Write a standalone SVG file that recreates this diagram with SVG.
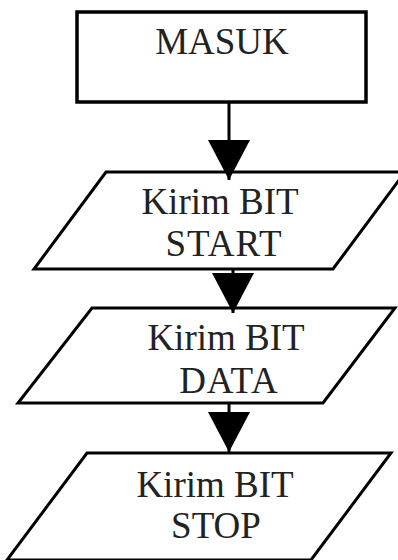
<svg xmlns="http://www.w3.org/2000/svg" width="398" height="560" viewBox="0 0 398 560">
<defs>
<style>
.box{fill:#fff;stroke:#000;stroke-width:3.5}
.io{fill:#fff;stroke:#000;stroke-width:3}
.lbl{font-family:"Liberation Serif","Times New Roman",serif;font-size:37px;fill:#222;text-anchor:middle}
.con{stroke:#000;stroke-width:3;fill:none;marker-end:url(#ah)}
</style>
<marker id="ah" viewBox="0 0 40 42" refX="40" refY="21" markerWidth="40" markerHeight="42" markerUnits="userSpaceOnUse" orient="auto">
<path d="M0,0 L40,21 L0,42 z" fill="#000"/>
</marker>
</defs>
<rect width="398" height="560" fill="#fff"/>
<g id="masuk">
<rect class="box" x="77" y="12" width="289" height="90"/>
<text class="lbl" x="222" y="54">MASUK</text>
</g>
<g id="start">
<polygon class="io" points="106,172 405,172 333,269 34,269"/>
<text class="lbl" x="220" y="214">Kirim BIT</text>
<text class="lbl" x="224" y="256" letter-spacing="1">START</text>
</g>
<g id="data">
<polygon class="io" points="92,308 395,308 323,403 18,403"/>
<text class="lbl" x="226" y="350">Kirim BIT</text>
<text class="lbl" x="229" y="393" letter-spacing="1">DATA</text>
</g>
<g id="stop">
<polygon class="io" points="87,453 391,453 311,560 7,560 "/>
<text class="lbl" x="215" y="497">Kirim BIT</text>
<text class="lbl" x="216" y="538">STOP</text>
</g>
<g id="connectors">
<line class="con" x1="229" y1="102" x2="229" y2="180"/>
<line class="con" x1="233" y1="269" x2="233" y2="313"/>
<line class="con" x1="229" y1="403" x2="229" y2="452"/>
</g>
</svg>
